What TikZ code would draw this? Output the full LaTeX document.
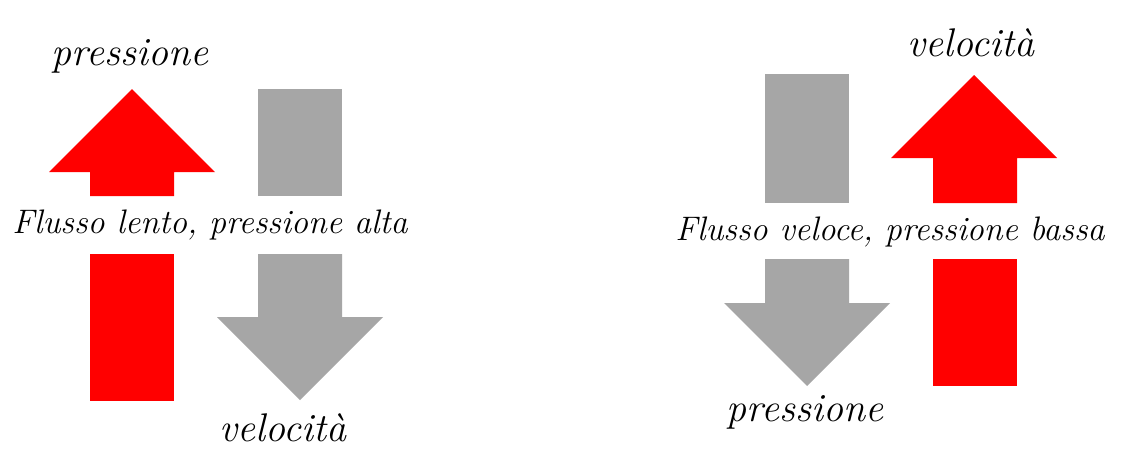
\documentclass[tikz,border=0pt]{standalone}
\usepackage{tikz}

\definecolor{arrowred}{HTML}{FF0000}
\definecolor{arrowgray}{HTML}{A6A6A6}

\begin{document}
\begin{tikzpicture}[x=0.5pt,y=-0.5pt]
   \tikzstyle{up arrow}=[fill=arrowred]
   \tikzstyle{down arrow}=[fill=arrowgray]
   \tikzstyle{big label}=[font=\fontsize{20}{24}\selectfont\itshape,anchor=base,inner sep=0pt]
   \tikzstyle{flow label}=[font=\fontsize{17}{20}\selectfont\itshape,anchor=base,inner sep=0pt]
   \useasboundingbox[fill=white] (0,0) rectangle (1140,456);

   % slow flow, high pressure
   \fill[up arrow] (132,89) -- (215,172) -- (174,172) -- (174,196) -- (90,196) -- (90,172) -- (49,172) -- cycle;
   \fill[up arrow] (90,254) rectangle (174,401);
   \fill[down arrow] (258,89) rectangle (342,196);
   \fill[down arrow] (258,254) -- (342,254) -- (342,317) -- (383,317) -- (300,400) -- (217,317) -- (258,317) -- cycle;
   \node[big label]  (pL)   at (130,65)  {pressione};
   \node[flow label] (slow) at (210,233) {Flusso lento, pressione alta};
   \node[big label]  (vL)   at (283,441) {velocità};

   % fast flow, low pressure
   \fill[down arrow] (765,74) rectangle (849,203);
   \fill[down arrow] (765,259) -- (849,259) -- (849,303) -- (890,303) -- (807,386) -- (724,303) -- (765,303) -- cycle;
   \fill[up arrow] (974,75) -- (1057,158) -- (1017,158) -- (1017,203) -- (933,203) -- (933,158) -- (891,158) -- cycle;
   \fill[up arrow] (933,259) rectangle (1017,386);
   \node[big label]  (vR)   at (971,56)  {velocità};
   \node[flow label] (fast) at (890,240) {Flusso veloce, pressione bassa};
   \node[big label]  (pR)   at (805,421) {pressione};
\end{tikzpicture}
\end{document}
